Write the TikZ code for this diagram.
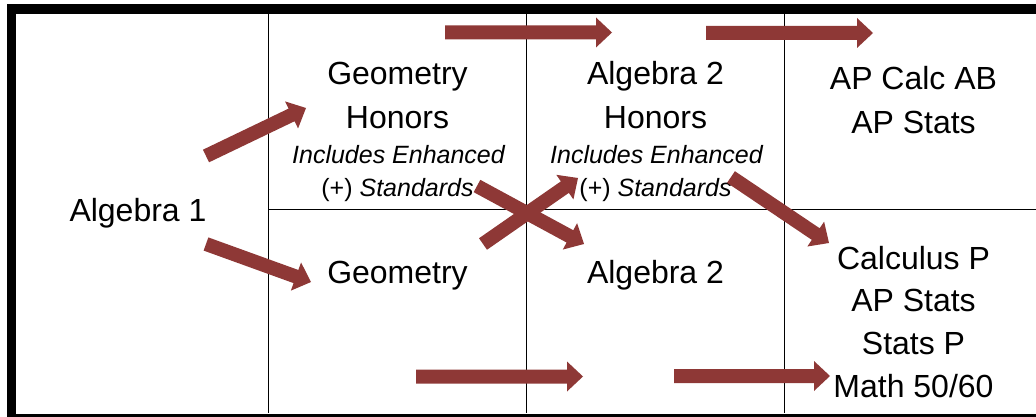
\documentclass[tikz,border=0pt]{standalone}
\usepackage{fontspec}
\setmainfont{Liberation Sans}
\usetikzlibrary{calc}
\definecolor{arrowcol}{RGB}{142,56,54}
\tikzset{
  lbl/.style={anchor=base,inner sep=0pt,font=\fontsize{32}{38}\selectfont},
  sub/.style={anchor=base,inner sep=0pt,font=\fontsize{25}{30}\selectfont},
  gridline/.style={line width=1.2pt,black},
  frameline/.style={line width=9.6pt,black},
  arrowfill/.style={fill=arrowcol}
}
\newcommand\blockarr[2]{%
  \path ($(#2)!16pt!(#1)$) coordinate (h#1);
  \fill[arrowfill] ($(#1)!7pt!90:(#2)$) -- ($(h#1)!7pt!90:(#2)$) -- ($(h#1)!15pt!90:(#2)$) -- (#2)
    -- ($(h#1)!15pt!-90:(#2)$) -- ($(h#1)!7pt!-90:(#2)$) -- ($(#1)!7pt!-90:(#2)$) -- cycle;}
\begin{document}
\begin{tikzpicture}[x=1pt,y=-1pt]
\useasboundingbox (0,0) rectangle (1036,417);
\clip (0,0) rectangle (1036,417);
% grid
\draw[gridline] (268.3,14) -- (268.3,413);
\draw[gridline] (526.7,14) -- (526.7,413);
\draw[gridline] (784.3,14) -- (784.3,413);
\draw[gridline] (268.3,209.3) -- (1040,209.3);
% frame
\draw[frameline] (11.5,9.3) rectangle (1060,418.5);
% texts
\node[lbl] (alg1) at (138,221) {Algebra 1};
\node[lbl] (geoh1) at (397.5,84.5) {Geometry};
\node[lbl] (geoh2) at (397.5,128.5) {Honors};
\node[sub] (geoh3) at (398.5,163.5) {\itshape Includes Enhanced};
\node[sub] (geoh4) at (397.5,196.5) {(+) \itshape Standards};
\node[lbl] (algh1) at (655.5,84.5) {Algebra 2};
\node[lbl] (algh2) at (655.5,128.5) {Honors};
\node[sub] (algh3) at (656.5,163.5) {\itshape Includes Enhanced};
\node[sub] (algh4) at (655.5,196.5) {(+) \itshape Standards};
\node[lbl] (ap1) at (913.5,89.5) {AP Calc AB};
\node[lbl] (ap2) at (913.5,133.5) {AP Stats};
\node[lbl] (geo) at (397.5,283.5) {Geometry};
\node[lbl] (alg2) at (655.5,283.5) {Algebra 2};
\node[lbl] (c1) at (913.5,269.5) {Calculus P};
\node[lbl] (c2) at (913.5,311.5) {AP Stats};
\node[lbl] (c3) at (913.5,354) {Stats P};
\node[lbl] (c4) at (913.5,397.5) {Math 50/60};
% arrow end points
\coordinate (ta) at (445,32.5);  \coordinate (tb) at (612,32.5);
\coordinate (tc) at (706,33);    \coordinate (td) at (873,33);
\coordinate (ba) at (416,376.5); \coordinate (bb) at (583,376.5);
\coordinate (bc) at (674,376);   \coordinate (bd) at (830,376);
\coordinate (ua) at (206,156);   \coordinate (ub) at (306,108);
\coordinate (la) at (206,244);   \coordinate (lb) at (311,282);
\coordinate (xa) at (483,244);   \coordinate (xb) at (578,178);
\coordinate (ya) at (477,186);   \coordinate (yb) at (584,244);
\coordinate (ra) at (731,177);   \coordinate (rb) at (829,243);
\blockarr{ta}{tb}
\blockarr{tc}{td}
\blockarr{ba}{bb}
\blockarr{bc}{bd}
\blockarr{ua}{ub}
\blockarr{la}{lb}
\blockarr{xa}{xb}
\blockarr{ya}{yb}
\blockarr{ra}{rb}
\end{tikzpicture}
\end{document}
